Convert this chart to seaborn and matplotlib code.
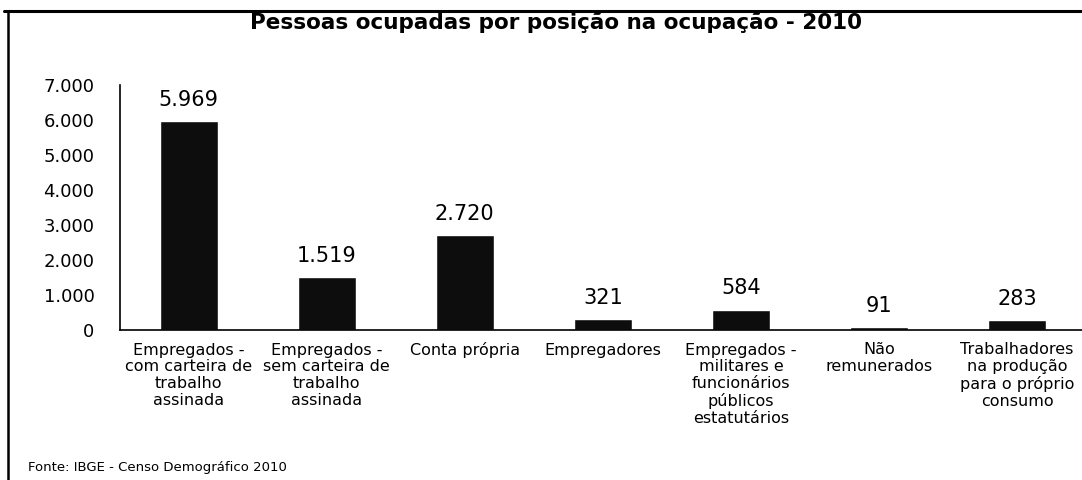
import matplotlib
matplotlib.use("Agg")
import matplotlib.pyplot as plt
import seaborn as sns
import pandas as pd
from matplotlib.ticker import FuncFormatter

categories = [
    "Empregados -\ncom carteira de\ntrabalho\nassinada",
    "Empregados -\nsem carteira de\ntrabalho\nassinada",
    "Conta própria",
    "Empregadores",
    "Empregados -\nmilitares e\nfuncionários\npúblicos\nestatutários",
    "Não\nremunerados",
    "Trabalhadores\nna produção\npara o próprio\nconsumo",
]
values = [5969, 1519, 2720, 321, 584, 91, 283]
yticks = [0, 1000, 2000, 3000, 4000, 5000, 6000, 7000]

sns.set_style("white")
plt.rcParams['font.family'] = ['DejaVu Sans']
plt.rcParams['text.color'] = 'black'
plt.rcParams['xtick.color'] = 'black'
plt.rcParams['ytick.color'] = 'black'

df = pd.DataFrame({"cat": categories, "val": values})

fig = plt.figure(figsize=(10.82, 4.80), dpi=100)
ax = fig.add_axes([0.1105, 0.3125, 0.8895, 0.51])
sns.barplot(data=df, x="cat", y="val", color="#0d0d0d", width=0.42,
            saturation=1, ax=ax)

ax.set_xlim(-0.5, 6.47)
ax.set_ylim(0, 7000)
ax.set_yticks(yticks)
ax.yaxis.set_major_formatter(FuncFormatter(lambda v, p: f"{int(v):,}".replace(",", ".")))
ax.tick_params(axis="y", labelsize=13, length=4, width=1, direction="inout", pad=16,
               colors="black")
ax.tick_params(axis="x", labelsize=11.5, length=0, pad=9, colors="black")
for lbl in ax.get_xticklabels():
    lbl.set_linespacing(1.15)
ax.set_xlabel("")
ax.set_ylabel("")
for s in ["top", "right"]:
    ax.spines[s].set_visible(False)
for s in ["left", "bottom"]:
    ax.spines[s].set_color("black")
    ax.spines[s].set_linewidth(1.2)

for i, v in enumerate(values):
    ax.annotate(f"{v:,}".replace(",", "."), (i, v), xytext=(0, 8),
                textcoords="offset points", ha="center", va="bottom",
                fontsize=15, color="black")

fig.text(0.514, 0.952, "Pessoas ocupadas por posição na ocupação - 2010",
         ha="center", va="center", fontsize=15.5, fontweight="bold", color="black")
fig.text(0.026, 0.027, "Fonte: IBGE - Censo Demográfico 2010",
         ha="left", va="center", fontsize=9.5, color="black")

# frame
fig.add_artist(plt.Line2D([0.004, 1.0], [0.978, 0.978], transform=fig.transFigure,
                          color="black", linewidth=2.2))
fig.add_artist(plt.Line2D([0.007, 0.007], [0.0, 0.978], transform=fig.transFigure,
                          color="black", linewidth=1.8))

fig.savefig("out.png", dpi=100)
